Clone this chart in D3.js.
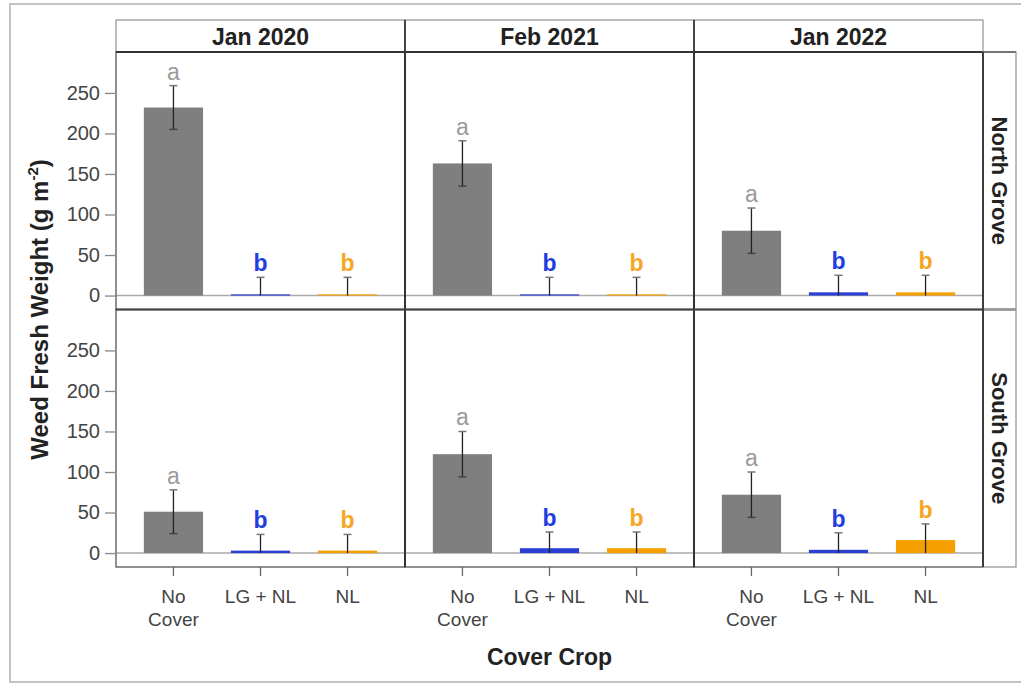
<!DOCTYPE html>
<html><head><meta charset="utf-8">
<script src="https://cdn.jsdelivr.net/npm/d3@7"></script>
<style>body{margin:0;background:#fff;} text{font-family:"Liberation Sans",Arial,sans-serif;}</style>
</head><body>
<svg id="chart" width="1021" height="684"></svg>
<script>
// ---- data ----
const groves = ["North Grove", "South Grove"];
const dates = ["Jan 2020", "Feb 2021", "Jan 2022"];
const covers = ["No Cover", "LG + NL", "NL"];
const yTicks = [0, 50, 100, 150, 200, 250];
const letters = ["a", "b", "b"];
// means[date][cover]
const meanNorth = [[232, 1.5, 1.5], [163, 1.5, 1.5], [80, 4, 4]];
const meanSouth = [[51, 3, 3], [122, 6, 6], [72, 4, 16]];
const seNorth = [[27, 21, 21], [28, 21, 21], [28, 21, 21]];
const seSouth = [[27, 20, 20], [28, 20, 20], [28, 21, 20]];
const coverColors = ["#7f7f7f", "#2b3fd4", "#f5a000"];
const letterColors = ["#9a9a9a", "#1f3de0", "#f5a623"];

const means = [meanNorth, meanSouth];
const ses = [seNorth, seSouth];

const svg = d3.select("#chart");
// outer frame
svg.append("rect").attr("x", 10).attr("y", 4).attr("width", 1030).attr("height", 678)
  .attr("fill", "none").attr("stroke", "#c4c4c4").attr("stroke-width", 2);

const pLeft = 116, pRight = 983, pTop = 52, stripTop = 20, pBottom = 567;
const colW = (pRight - pLeft) / dates.length;
const rowH = (pBottom - pTop) / groves.length;

const x = d3.scaleBand().domain(covers).range([0, colW]).paddingInner(0.32).paddingOuter(0.32);
const y = d3.scaleLinear().domain([-17.2, 300.5]).range([rowH, 0]);

groves.forEach((g, gi) => {
  dates.forEach((d, di) => {
    const px = pLeft + di * colW, py = pTop + gi * rowH;
    const p = svg.append("g").attr("transform", `translate(${px},${py})`);
    // zero line
    p.append("line").attr("x1", 0).attr("x2", colW).attr("y1", y(0)).attr("y2", y(0))
      .attr("stroke", "#aaaaaa").attr("stroke-width", 1.5);
    covers.forEach((c, ci) => {
      const m = means[gi][di][ci], s = ses[gi][di][ci];
      const cx = x(c) + x.bandwidth() / 2;
      p.append("rect").attr("x", x(c)).attr("width", x.bandwidth())
        .attr("y", y(m)).attr("height", y(0) - y(m)).attr("fill", coverColors[ci]);
      const lo = Math.max(0, m - s), hi = m + s;
      p.append("line").attr("x1", cx).attr("x2", cx).attr("y1", y(lo)).attr("y2", y(hi))
        .attr("stroke", "#222").attr("stroke-width", 1.3);
      p.append("line").attr("x1", cx - 4).attr("x2", cx + 4).attr("y1", y(hi)).attr("y2", y(hi))
        .attr("stroke", "#777").attr("stroke-width", 1.5);
      if (m - s > 0) {
        p.append("line").attr("x1", cx - 4).attr("x2", cx + 4).attr("y1", y(lo)).attr("y2", y(lo))
          .attr("stroke", "#444").attr("stroke-width", 1.5);
      }
      p.append("text").attr("x", cx).attr("y", y(hi) - 6).attr("text-anchor", "middle")
        .attr("font-size", 23).attr("fill", letterColors[ci])
        .attr("font-weight", ci === 0 ? "normal" : "bold").text(letters[ci]);
    });
    // panel border
    p.append("rect").attr("width", colW).attr("height", rowH).attr("fill", "none")
      .attr("stroke", "#555").attr("stroke-width", 1.3);
    // y axis on first column
    if (di === 0) {
      const ax = p.append("g").call(d3.axisLeft(y).tickValues(yTicks).tickSize(10).tickPadding(6));
      ax.select(".domain").remove();
      ax.selectAll(".tick line").attr("stroke", "#888").attr("stroke-width", 1.3).attr("transform", "translate(-1,0)");
      ax.selectAll(".tick text").attr("font-size", 20).attr("fill", "#444")
        .style("font-family", "'Liberation Sans',Arial,sans-serif");
    }
    // x axis on bottom row
    if (gi === groves.length - 1) {
      const ax = p.append("g").attr("transform", `translate(0,${rowH})`)
        .call(d3.axisBottom(x).tickSize(9).tickPadding(14));
      ax.select(".domain").remove();
      ax.selectAll(".tick line").attr("stroke", "#666").attr("stroke-width", 1.3);
      ax.selectAll(".tick text").attr("font-size", 19).attr("fill", "#444")
        .style("font-family", "'Liberation Sans',Arial,sans-serif")
        .each(function(t) {
          const el = d3.select(this);
          if (t === "No Cover") {
            el.text(null);
            el.append("tspan").attr("x", 0).attr("dy", "0.71em").text("No");
            el.append("tspan").attr("x", 0).attr("dy", "1.2em").text("Cover");
          }
        });
    }
  });
});

// column strips
dates.forEach((d, di) => {
  const px = pLeft + di * colW;
  svg.append("rect").attr("x", px).attr("y", stripTop).attr("width", colW).attr("height", pTop - stripTop)
    .attr("fill", "#fff").attr("stroke", "#999").attr("stroke-width", 1.3);
  svg.append("text").attr("x", px + colW / 2).attr("y", 45).attr("text-anchor", "middle")
    .attr("font-size", 23).attr("font-weight", "bold").attr("fill", "#222").text(d);
});
// column dividers (dark)
dates.forEach((d, di) => {
  if (di > 0) {
    svg.append("line").attr("x1", pLeft + di * colW).attr("x2", pLeft + di * colW)
      .attr("y1", stripTop).attr("y2", pBottom).attr("stroke", "#222").attr("stroke-width", 1.5);
  }
});
svg.append("line").attr("x1", pLeft).attr("x2", pRight + 33).attr("y1", pTop).attr("y2", pTop)
  .attr("stroke", "#333").attr("stroke-width", 1.8);
svg.append("line").attr("x1", pLeft).attr("x2", pRight + 33).attr("y1", pTop + rowH).attr("y2", pTop + rowH)
  .attr("stroke", "#444").attr("stroke-width", 1.8);

// row strips
groves.forEach((g, gi) => {
  const py = pTop + gi * rowH;
  svg.append("rect").attr("x", pRight).attr("y", py).attr("width", 33).attr("height", rowH)
    .attr("fill", "none").attr("stroke", "#999").attr("stroke-width", 1.3);
  svg.append("text").attr("transform", `translate(${pRight + 9},${py + rowH / 2}) rotate(90)`)
    .attr("text-anchor", "middle").attr("font-size", 22).attr("font-weight", "bold").attr("fill", "#222").text(g);
});
svg.append("line").attr("x1", pRight).attr("x2", pRight).attr("y1", pTop).attr("y2", pBottom)
  .attr("stroke", "#333").attr("stroke-width", 1.8);

// axis titles
svg.append("text").attr("x", (pLeft + pRight) / 2).attr("y", 665).attr("text-anchor", "middle")
  .attr("font-size", 23).attr("font-weight", "bold").attr("fill", "#222").text("Cover Crop");
const yt = svg.append("text").attr("transform", `translate(48,${(pTop + pBottom) / 2}) rotate(-90)`)
  .attr("text-anchor", "middle").attr("font-size", 24).attr("font-weight", "bold").attr("fill", "#222");
yt.append("tspan").text("Weed Fresh Weight (g m");
yt.append("tspan").attr("font-size", 15).attr("dy", -10).text("-2");
yt.append("tspan").attr("dy", 10).text(")");
</script>
</body></html>
